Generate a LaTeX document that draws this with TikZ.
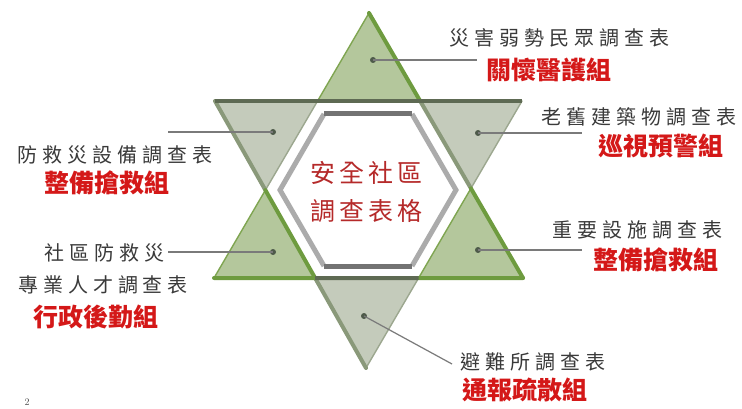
\documentclass[tikz,border=0pt]{standalone}
\usepackage{fontspec}
\newfontfamily\cjk[LetterSpace=25]{Noto Sans CJK TC}
\newfontfamily\cjkc[LetterSpace=16]{Noto Sans CJK TC}
\newfontfamily\cjkr{Noto Sans CJK TC}
\definecolor{upfill}{HTML}{B4C79C}
\definecolor{downfill}{HTML}{C4CBBB}
\definecolor{gthick}{HTML}{6E9B3F}
\definecolor{gthin}{HTML}{7FA551}
\definecolor{band}{HTML}{5E6A53}
\definecolor{dthick}{HTML}{8A997A}
\definecolor{dthin}{HTML}{9CA78F}
\definecolor{txtgray}{HTML}{3A3A3A}
\definecolor{lblred}{HTML}{D41818}
\definecolor{ctrred}{HTML}{B52A2A}
\definecolor{conngray}{HTML}{7A7A7A}
\definecolor{dotgray}{HTML}{4E5A4A}
\tikzset{
  thinup/.style={draw=gthin, line width=1.4pt, line cap=round},
  thickup/.style={draw=gthick, line width=4pt, line cap=round},
  bandline/.style={draw=band, line width=4pt},
  thickdown/.style={draw=dthick, line width=4pt, line cap=round},
  thindown/.style={draw=dthin, line width=1.4pt, line cap=round},
  conn/.style={draw=conngray, line width=1.2pt},
  dotn/.style={circle, fill=dotgray, inner sep=0pt, minimum size=6pt},
  formtxt/.style={text=txtgray, font=\cjk\fontsize{20}{24}\selectfont, inner sep=0pt},
  teamtxt/.style={text=lblred, font=\cjkr\bfseries\fontsize{25}{28}\selectfont, inner sep=0pt},
  ctrtxt/.style={text=ctrred, font=\cjkc\fontsize{25}{28}\selectfont, inner sep=0pt},
}
\begin{document}
\begin{tikzpicture}[x=1pt,y=-1pt]
\useasboundingbox (0,0) rectangle (742,409);
% big triangles
\coordinate (A) at (369,13);
\coordinate (BL) at (214,278);
\coordinate (BR) at (523,278);
\coordinate (TL) at (215,101);
\coordinate (TR) at (522,101);
\coordinate (D) at (366,368);
\coordinate (H1) at (intersection of A--BL and TL--TR);
\coordinate (H2) at (intersection of A--BR and TL--TR);
\coordinate (H3) at (intersection of A--BR and TR--D);
\coordinate (H4) at (intersection of TR--D and BL--BR);
\coordinate (H5) at (intersection of TL--D and BL--BR);
\coordinate (H6) at (intersection of A--BL and TL--D);
% fills
\fill[upfill] (A) -- (H2) -- (H1) -- cycle;
\fill[upfill] (H6) -- (H5) -- (BL) -- cycle;
\fill[upfill] (H3) -- (BR) -- (H4) -- cycle;
\fill[downfill] (TL) -- (H1) -- (H6) -- cycle;
\fill[downfill] (H2) -- (TR) -- (H3) -- cycle;
\fill[downfill] (H5) -- (H4) -- (D) -- cycle;
% thin edges
\draw[thinup] (H1) -- (A);
\draw[thinup] (BL) -- (H6);
\draw[thinup] (H4) -- (H3);
\draw[thindown] (H1) -- (H6);
\draw[thindown] (TR) -- (H3);
\draw[thindown] (D) -- (H4);
% thick edges
\draw[thickdown] (TL) -- (H6);
\draw[thickdown] (H2) -- (H3);
\draw[thickdown] (H5) -- (D);
\draw[thickup] (A) -- (H2);
\draw[thickup] (H6) -- (H5);
\draw[thickup] (H3) -- (BR);
\draw[thickup] (H5) -- (BL);
\draw[thickup] (BR) -- (H4);
\draw[bandline] (TL) -- (TR);
\draw[bandline] (H5) -- (H4);
% inner grey hexagon
\coordinate (G1) at (456,190);
\coordinate (G2) at (412,114);
\coordinate (G3) at (324,114);
\coordinate (G4) at (280,190);
\coordinate (G5) at (324,266);
\coordinate (G6) at (412,266);
\draw[draw=black!33, line width=5pt, line join=miter] (G2) -- (G1) -- (G6);
\draw[draw=black!33, line width=5pt, line join=miter] (G3) -- (G4) -- (G5);
\draw[draw=black!55, line width=5pt] (G3) -- (G2);
\draw[draw=black!55, line width=5pt] (G5) -- (G6);
\node[ctrtxt] (c1) at (366,173) {安全社區};
\node[ctrtxt] (c2) at (366,211) {調查表格};
% dots and connectors
\node[dotn] (d1) at (373,60) {};
\node[dotn] (d2) at (478,133) {};
\node[dotn] (d3) at (273,132) {};
\node[dotn] (d4) at (273,252) {};
\node[dotn] (d5) at (478,250) {};
\node[dotn] (d6) at (364,316) {};
\coordinate (e1) at (477,60);
\coordinate (e2) at (582,133);
\coordinate (e3) at (168,132);
\coordinate (e4) at (168,252);
\coordinate (e5) at (582,250);
\coordinate (e6) at (452,364);
\draw[conn] (d1.center) -- (e1);
\draw[conn] (d2.center) -- (e2);
\draw[conn] (d3.center) -- (e3);
\draw[conn] (d4.center) -- (e4);
\draw[conn] (d5.center) -- (e5);
\draw[conn] (d6.center) -- (e6);
% labels
\node[formtxt] (t1) at (559,38) {災害弱勢民眾調查表};
\node[teamtxt] (r1) at (549,70) {關懷醫護組};
\node[formtxt] (t2) at (639,117) {老舊建築物調查表};
\node[teamtxt] (r2) at (661,146) {巡視預警組};
\node[formtxt] (t3) at (115,155) {防救災設備調查表};
\node[teamtxt] (r3) at (107,183) {整備搶救組};
\node[formtxt] (t4) at (104,253) {社區防救災};
\node[formtxt] (t5) at (103,285) {專業人才調查表};
\node[teamtxt] (r4) at (96,317) {行政後勤組};
\node[formtxt] (t6) at (637,230) {重要設施調查表};
\node[teamtxt] (r5) at (656,260) {整備搶救組};
\node[formtxt] (t7) at (533,362) {避難所調查表};
\node[teamtxt] (r6) at (525,390) {通報疏散組};
\node[text=black!70, font=\fontsize{10}{10}\selectfont, inner sep=0pt] (pg) at (27,402) {2};
\end{tikzpicture}
\end{document}
